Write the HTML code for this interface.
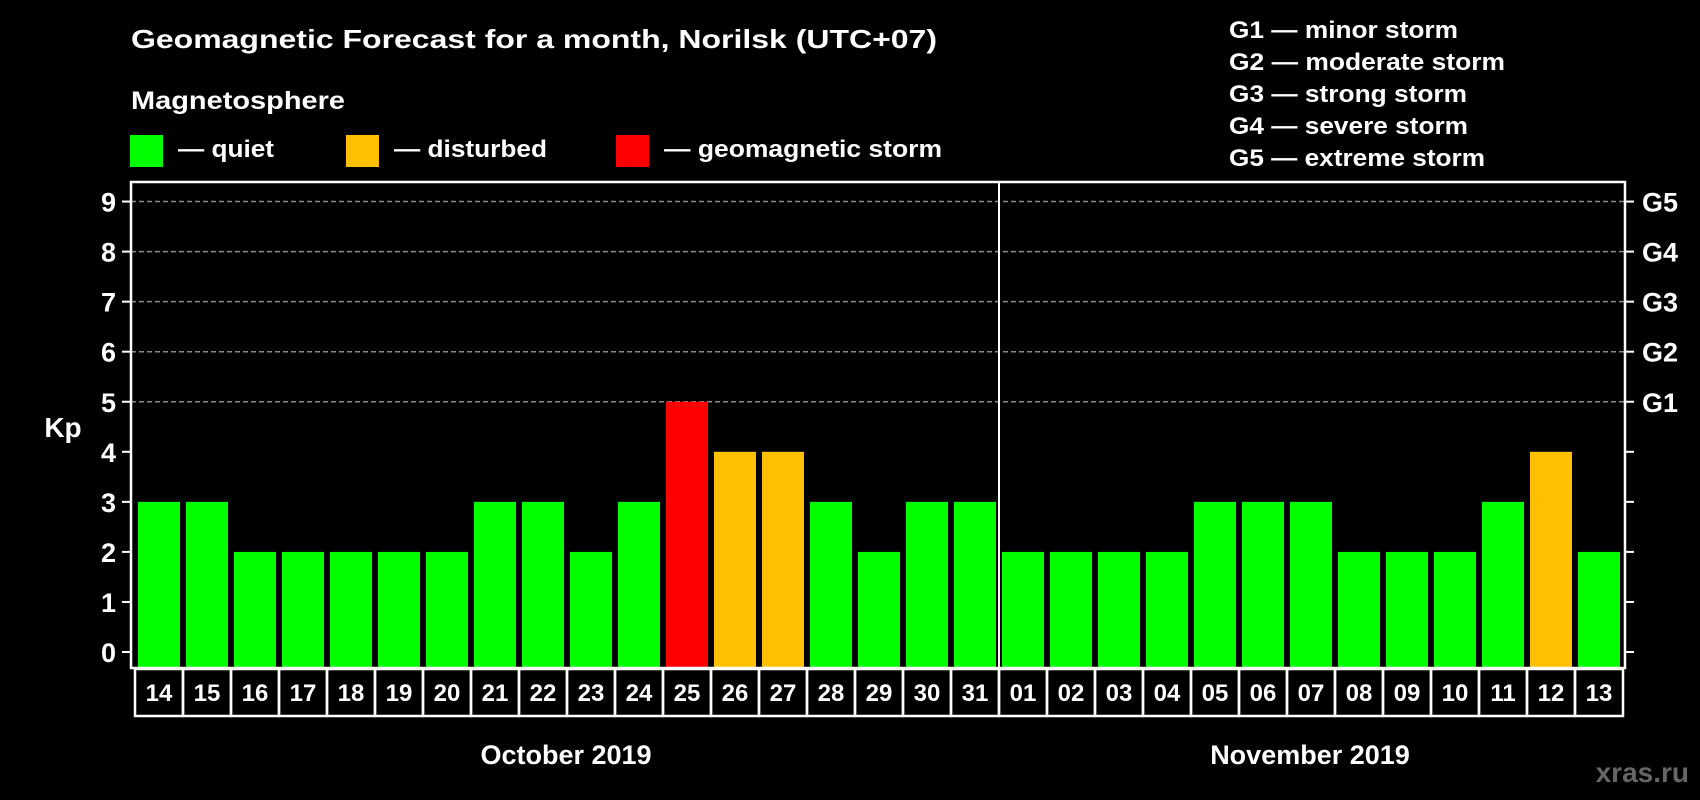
<!DOCTYPE html>
<html><head><meta charset="utf-8"><style>
html,body{margin:0;padding:0;background:#000;}
svg{display:block;font-family:"Liberation Sans",Arial,sans-serif;font-weight:bold;}
</style></head><body>
<svg id="chart" width="1700" height="800" viewBox="0 0 1700 800" xmlns="http://www.w3.org/2000/svg">
<rect x="0" y="0" width="1700" height="800" fill="#000"/>
<text x="131" y="48" fill="#fff" font-size="26" textLength="806" lengthAdjust="spacingAndGlyphs">Geomagnetic Forecast for a month, Norilsk (UTC+07)</text>
<text x="131" y="109" fill="#fff" font-size="25" textLength="214" lengthAdjust="spacingAndGlyphs">Magnetosphere</text>
<g>
<rect x="130" y="135" width="33" height="32" fill="#00ff00"/>
<text x="178" y="157" fill="#fff" font-size="24" textLength="96" lengthAdjust="spacingAndGlyphs">— quiet</text></g>
<g>
<rect x="346" y="135" width="33" height="32" fill="#ffc000"/>
<text x="394" y="157" fill="#fff" font-size="24" textLength="153" lengthAdjust="spacingAndGlyphs">— disturbed</text></g>
<g>
<rect x="616" y="135" width="33" height="32" fill="#ff0000"/>
<text x="664" y="157" fill="#fff" font-size="24" textLength="278" lengthAdjust="spacingAndGlyphs">— geomagnetic storm</text></g>
<g fill="#fff" font-size="24">
<text x="1229" y="38" textLength="229" lengthAdjust="spacingAndGlyphs">G1 — minor storm</text>
<text x="1229" y="70" textLength="276" lengthAdjust="spacingAndGlyphs">G2 — moderate storm</text>
<text x="1229" y="102" textLength="238" lengthAdjust="spacingAndGlyphs">G3 — strong storm</text>
<text x="1229" y="134" textLength="239" lengthAdjust="spacingAndGlyphs">G4 — severe storm</text>
<text x="1229" y="166" textLength="256" lengthAdjust="spacingAndGlyphs">G5 — extreme storm</text>
</g>
<g id="grid"></g>
<g id="bars"></g>
<g id="axes"></g>
<text x="63" y="437" fill="#fff" font-size="28" text-anchor="middle">Kp</text>
<text x="566" y="764" fill="#fff" font-size="27" text-anchor="middle">October 2019</text>
<text x="1310" y="764" fill="#fff" font-size="27" text-anchor="middle">November 2019</text>
<text x="1689" y="782" fill="#666" font-size="28" text-anchor="end">xras.ru</text>
</svg>
<script>
const days = ["14","15","16","17","18","19","20","21","22","23","24","25","26","27","28","29","30","31","01","02","03","04","05","06","07","08","09","10","11","12","13"];
const kpValues = [3,3,2,2,2,2,2,3,3,2,3,5,4,4,3,2,3,3,2,2,2,2,3,3,3,2,2,2,3,4,2];
const yTicks = [0,1,2,3,4,5,6,7,8,9];
const gLabels = ["G1","G2","G3","G4","G5"];
const gLevels = [5,6,7,8,9];
const NS = "http://www.w3.org/2000/svg";
const frameL = 131, frameR = 1625, frameT = 182, frameB = 668;
const barStart = 138, pitch = 48, barW = 42, boxStart = 135;
function y(v){ return 652 - v * 50.05; }
function x(i){ return barStart + i * pitch; }
function mk(tag, attrs, parent){ const e = document.createElementNS(NS, tag); for (const k in attrs) e.setAttribute(k, attrs[k]); parent.appendChild(e); return e; }
function colorFor(v){ return v >= 5 ? "#ff0000" : (v >= 4 ? "#ffc000" : "#00ff00"); }
const grid = document.getElementById("grid"), bars = document.getElementById("bars"), axes = document.getElementById("axes");
gLevels.forEach(v => {
  const l = mk("line", {x1: frameL, x2: frameR, y1: y(v), y2: y(v), stroke: "#8a8a8a", "stroke-width": 1.5, "stroke-dasharray": "5 3"}, grid);
  
  
});
kpValues.forEach((v, i) => {
  const r = mk("rect", {x: x(i), y: y(v), width: barW, height: frameB - 1 - y(v), fill: colorFor(v)}, bars);
  
  
  const b = mk("rect", {x: boxStart + i * pitch, y: 669, width: pitch, height: 47, fill: "none", stroke: "#fff", "stroke-width": 2.5}, axes);
  
  
  const t = mk("text", {x: boxStart + i * pitch + pitch / 2, y: 701, fill: "#fff", "font-size": 24, "text-anchor": "middle"}, axes);
  t.textContent = days[i];
  
  
});
const frame = mk("rect", {x: frameL, y: frameT, width: frameR - frameL, height: frameB - frameT, fill: "none", stroke: "#fff", "stroke-width": 2.5}, axes);


const div = mk("line", {x1: 999, x2: 999, y1: frameT, y2: frameB, stroke: "#fff", "stroke-width": 2}, axes);


yTicks.forEach(v => {
  const tl = mk("line", {x1: 122, x2: frameL, y1: y(v), y2: y(v), stroke: "#fff", "stroke-width": 2}, axes);
  
  
  const tr = mk("line", {x1: frameR, x2: 1634, y1: y(v), y2: y(v), stroke: "#fff", "stroke-width": 2}, axes);
  
  
  const t = mk("text", {x: 116, y: y(v) + 10, fill: "#fff", "font-size": 27, "text-anchor": "end"}, axes);
  t.textContent = String(v);
  
  
});
gLevels.forEach((v, i) => {
  const t = mk("text", {x: 1642, y: y(v) + 10, fill: "#fff", "font-size": 27}, axes);
  t.textContent = gLabels[i];
  
  
});
</script>
</body></html>
